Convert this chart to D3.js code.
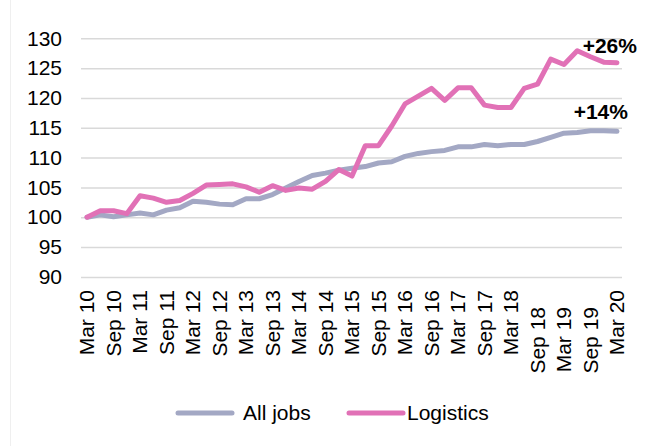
<!DOCTYPE html>
<html>
<head>
<meta charset="utf-8">
<script src="https://cdn.jsdelivr.net/npm/d3@7"></script>
<style>
  body { margin: 0; background: #fff; }
  svg { display: block; font-family: Arial, "Liberation Sans", sans-serif; }
</style>
</head>
<body>
<div id="chart"></div>
<script>
const quarters = []
const months = ['Mar', 'Jun', 'Sep', 'Dec']
for (let yr = 10; yr <= 20; yr++) {
  months.forEach((m) => {
    if (yr === 20 && m !== 'Mar') return
    quarters.push(m + ' ' + yr)
  })
}

const allJobs = [
  100.0, 100.4, 100.1, 100.4, 100.7, 100.4, 101.2, 101.6, 102.7, 102.5,
  102.2, 102.1, 103.1, 103.1, 103.8, 104.9, 106.0, 107.0, 107.4, 107.9,
  108.2, 108.5, 109.1, 109.3, 110.2, 110.7, 111.0, 111.2, 111.8, 111.8,
  112.2, 112.0, 112.2, 112.2, 112.7, 113.4, 114.1, 114.2, 114.5, 114.5,
  114.4
]
const logistics = [
  100.0, 101.1, 101.1, 100.6, 103.6, 103.2, 102.5, 102.8, 104.0, 105.4,
  105.5, 105.6, 105.1, 104.2, 105.3, 104.5, 104.9, 104.7, 106.0, 108.0,
  106.9, 112.0, 112.0, 115.3, 119.0, 120.3, 121.6, 119.6, 121.7, 121.7,
  118.8, 118.4, 118.4, 121.6, 122.3, 126.5, 125.6, 127.9, 126.9, 126.0,
  125.9
]
const yTicks = [90, 95, 100, 105, 110, 115, 120, 125, 130]
const seriesNames = ['All jobs', 'Logistics']
const changeLabels = ['+14%', '+26%']
const colors = ['#A3A8C4', '#E171B6']
// Excel pushed these three labels down a bit
const droppedLabels = ['Sep 18', 'Mar 19', 'Sep 19']

const width = 646
const height = 446
const fontSize = '21px'

const svg = d3.select('#chart').append('svg')
  .attr('width', width)
  .attr('height', height)

// faint chart border on the left
svg.append('line')
  .attr('x1', 10.5).attr('x2', 10.5)
  .attr('y1', 0).attr('y2', height)
  .attr('stroke', '#efefef')

const x = d3.scalePoint()
  .domain(quarters)
  .range([80.4, 623.6])
  .padding(0.5)

const y = d3.scaleLinear()
  .domain([90, 130])
  .range([276.9, 38.3])

// gridlines + y labels
const yAxis = svg.append('g')
  .attr('transform', 'translate(81,0)')
  .call(d3.axisLeft(y).tickValues(yTicks).tickSize(-541).tickPadding(19))
yAxis.select('.domain').remove()
yAxis.selectAll('.tick line').attr('stroke', '#d9d9d9').attr('stroke-width', 1.5)
yAxis.selectAll('.tick text')
  .attr('fill', '#000')
  .style('font-size', fontSize)
  .style('font-family', 'Arial, "Liberation Sans", sans-serif')

// x labels, every second quarter
const tickLabels = quarters.filter((d, i) => i % 2 === 0)
svg.append('g').selectAll('text')
  .data(tickLabels)
  .join('text')
  .attr('transform', (d) => 'translate(' + x(d) + ',' + (droppedLabels.includes(d) ? 307 : 290) + ') rotate(-90)')
  .attr('text-anchor', 'end')
  .attr('dy', '0.35em')
  .style('font-size', fontSize)
  .text((d) => d)

const line = d3.line()
  .x((d, i) => x(quarters[i]))
  .y((d) => y(d))

const series = [allJobs, logistics]
svg.append('g').selectAll('path')
  .data(series)
  .join('path')
  .attr('d', line)
  .attr('fill', 'none')
  .attr('stroke', (d, i) => colors[i])
  .attr('stroke-width', 5)
  .attr('stroke-linejoin', 'round')
  .attr('stroke-linecap', 'round')

// end labels
const last = quarters[quarters.length - 1]
svg.append('g').selectAll('text')
  .data(series)
  .join('text')
  .attr('x', (d, i) => x(last) + (i === 0 ? 11 : 20))
  .attr('y', (d, i) => y(d[d.length - 1]) - (i === 0 ? 12 : 10))
  .attr('text-anchor', 'end')
  .style('font-size', fontSize)
  .style('font-weight', 'bold')
  .text((d, i) => changeLabels[i])

// legend
const legendX = [178, 349]
const legend = svg.append('g').selectAll('g')
  .data(seriesNames)
  .join('g')
  .attr('transform', (d, i) => 'translate(' + legendX[i] + ',413)')
legend.append('line')
  .attr('x1', 0).attr('x2', 54)
  .attr('stroke', (d, i) => colors[i])
  .attr('stroke-width', 5)
  .attr('stroke-linecap', 'round')
legend.append('text')
  .attr('x', (d, i) => (i === 0 ? 65 : 58))
  .attr('dy', '0.35em')
  .style('font-size', fontSize)
  .text((d) => d)
</script>
</body>
</html>
